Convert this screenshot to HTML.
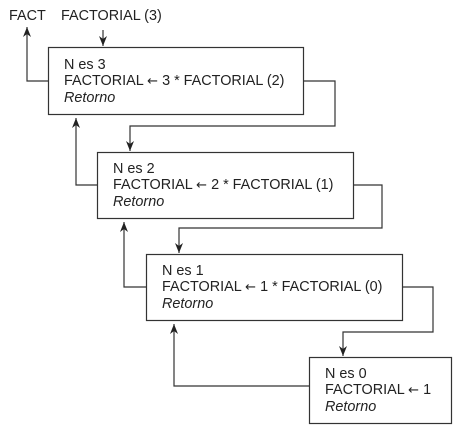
<!DOCTYPE html>
<html><head><style>
html,body{margin:0;padding:0;background:#fff;width:469px;height:437px;overflow:hidden}
svg text{font-family:"Liberation Sans",Arial,sans-serif;font-size:14.4px;fill:#222}
.ar{font-family:"DejaVu Sans",sans-serif;font-size:13px}
</style></head><body>
<svg width="469" height="437" viewBox="0 0 469 437" xmlns="http://www.w3.org/2000/svg">
<defs>
<marker id="d" markerWidth="8" markerHeight="10" refX="4" refY="10" markerUnits="userSpaceOnUse" viewBox="0 0 8 10"><path d="M0,0 L4,10 L8,0 L4,3 Z" fill="#222"/></marker>
<marker id="u" markerWidth="8" markerHeight="10" refX="4" refY="0" markerUnits="userSpaceOnUse" viewBox="0 0 8 10"><path d="M0,10 L4,0 L8,10 L4,7 Z" fill="#222"/></marker></defs>
<g fill="none" stroke="#333" stroke-width="1.2">
<rect x="48.5" y="47.5" width="255" height="67"/>
<rect x="97.5" y="152.5" width="256" height="66"/>
<rect x="146.5" y="254.5" width="256" height="66"/>
<rect x="309.5" y="357.5" width="142" height="66"/>
<path d="M103,30 V46" marker-end="url(#d)"/>
<path d="M48,81 H27 V27" marker-end="url(#u)"/>
<path d="M303,81 H335 V126 H130 V151" marker-end="url(#d)"/>
<path d="M97,185 H76 V118" marker-end="url(#u)"/>
<path d="M353,185 H382 V228 H179 V253" marker-end="url(#d)"/>
<path d="M146,287 H124 V222" marker-end="url(#u)"/>
<path d="M402,287 H433 V332 H343 V356" marker-end="url(#d)"/>
<path d="M309,386 H174 V324" marker-end="url(#u)"/>
</g>
<text x="9" y="20">FACT</text>
<text x="61" y="20">FACTORIAL (3)</text>
<text x="64" y="69">N es 3</text>
<text x="64" y="85">FACTORIAL <tspan class="ar">←</tspan> 3 * FACTORIAL (2)</text>
<text x="64" y="102" font-style="italic">Retorno</text>
<text x="113" y="173">N es 2</text>
<text x="113" y="189">FACTORIAL <tspan class="ar">←</tspan> 2 * FACTORIAL (1)</text>
<text x="113" y="206" font-style="italic">Retorno</text>
<text x="162" y="275">N es 1</text>
<text x="162" y="291">FACTORIAL <tspan class="ar">←</tspan> 1 * FACTORIAL (0)</text>
<text x="162" y="308" font-style="italic">Retorno</text>
<text x="325" y="378">N es 0</text>
<text x="325" y="394">FACTORIAL <tspan class="ar">←</tspan> 1</text>
<text x="325" y="411" font-style="italic">Retorno</text>
</svg>
</body></html>
